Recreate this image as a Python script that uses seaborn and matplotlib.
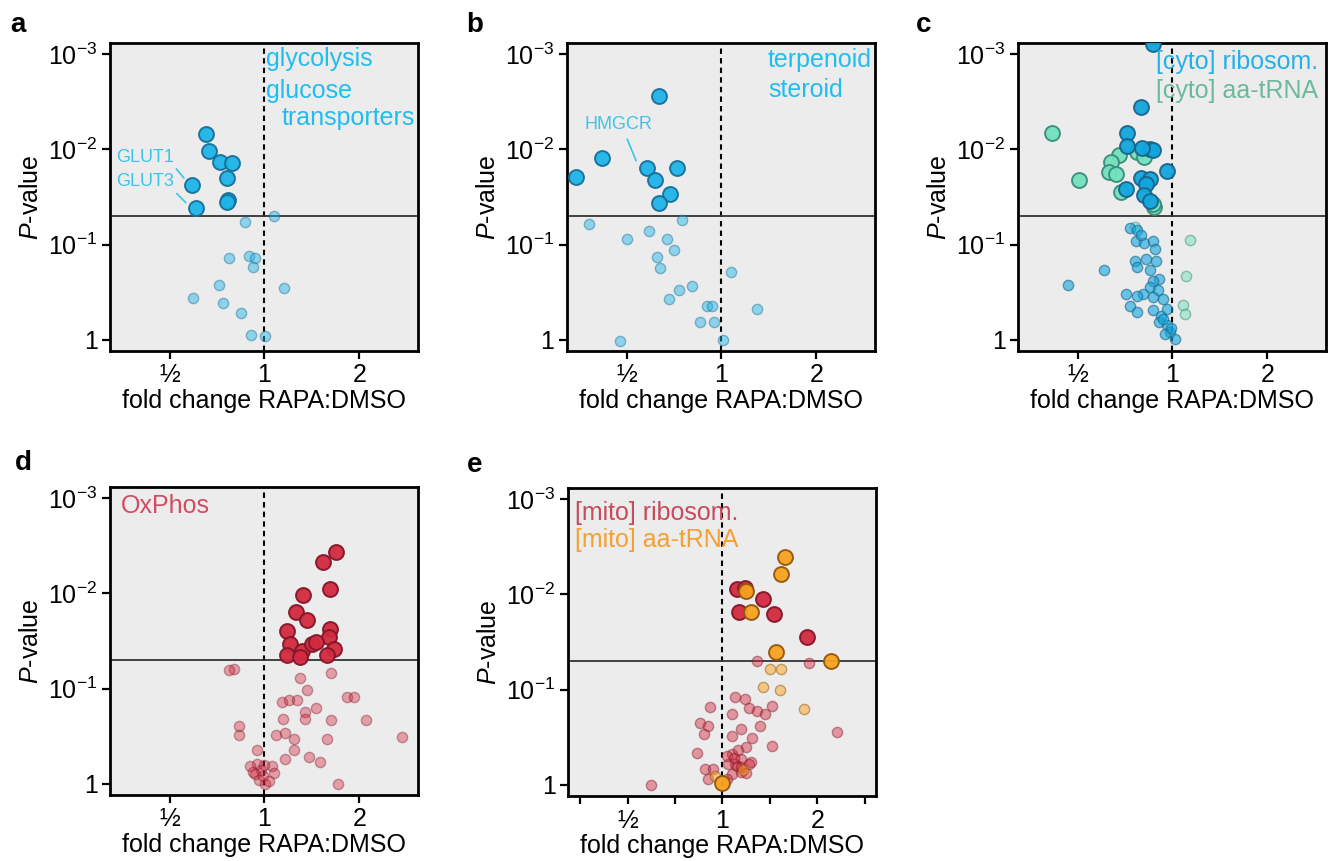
import matplotlib
matplotlib.use("Agg")
import matplotlib.pyplot as plt
import seaborn as sns

# ---------------- data (log2 fold change, -log10 P) ----------------
# panel a: glycolysis / glucose transporters
a_sig_lfc = [-0.62, -0.59, -0.47, -0.34, -0.40, -0.39, -0.40, -0.77, -0.72]
a_sig_nlp = [2.16, 1.98, 1.87, 1.86, 1.70, 1.47, 1.45, 1.63, 1.38]
a_ns_lfc = [0.10, -0.21, -0.37, -0.16, -0.10, -0.12, -0.48, 0.21, -0.75, -0.44, -0.25, -0.14, 0.01]
a_ns_nlp = [1.30, 1.24, 0.86, 0.88, 0.86, 0.76, 0.57, 0.54, 0.44, 0.38, 0.28, 0.05, 0.04]

# panel b: terpenoid / steroid
b_sig_lfc = [-0.66, -1.26, -1.53, -0.79, -0.70, -0.47, -0.54, -0.66]
b_sig_nlp = [2.56, 1.91, 1.71, 1.80, 1.68, 1.81, 1.53, 1.44]
b_ns_lfc = [-0.42, -1.40, -0.77, -1.00, -0.58, -0.50, -0.68, -0.65, 0.10, -0.31,
            -0.45, -0.55, -0.15, -0.10, 0.37, -0.23, -0.08, -1.07, 0.02]
b_ns_nlp = [1.26, 1.22, 1.14, 1.06, 1.06, 0.94, 0.87, 0.75, 0.71, 0.56,
            0.52, 0.43, 0.35, 0.35, 0.32, 0.18, 0.18, -0.01, 0.00]

# panel c: [cyto] ribosome (blue) and [cyto] aa-tRNA (green)
c_rib_sig_lfc = [-0.21, -0.33, -0.48, -0.48, -0.24, -0.21, -0.32, -0.06, -0.33, -0.24, -0.28, -0.30, -0.49, -0.24]
c_rib_sig_nlp = [3.11, 2.45, 2.17, 2.04, 2.01, 1.99, 2.02, 1.77, 1.70, 1.69, 1.64, 1.52, 1.58, 1.46]
c_trna_sig_lfc = [-1.27, -0.37, -0.30, -0.56, -0.65, -0.67, -0.60, -0.99, -0.54, -0.19, -0.21]
c_trna_sig_nlp = [2.17, 1.97, 1.92, 1.94, 1.87, 1.76, 1.74, 1.68, 1.55, 1.39, 1.43]
c_rib_ns_lfc = [-0.45, -0.37, -0.38, -0.30, -0.21, -0.40, -0.37, -0.28, -0.17, -0.24,
                -0.14, -0.21, -0.24, -0.15, -0.31, -0.49, -0.37, -0.21, -0.10, -0.45,
                -0.37, -0.21, -0.12, -0.06, -0.14, -0.06, -0.03, 0.03, -0.08, -0.72,
                -1.10, -0.33, -0.18, -0.10, -0.02]
c_rib_ns_nlp = [1.17, 1.15, 1.04, 1.02, 1.04, 0.83, 0.76, 0.85, 0.83, 0.73,
                0.64, 0.62, 0.55, 0.52, 0.48, 0.48, 0.46, 0.45, 0.43, 0.35,
                0.29, 0.31, 0.25, 0.32, 0.18, 0.15, 0.08, 0.01, 0.06, 0.73,
                0.57, 1.10, 0.95, 0.22, 0.12]
c_trna_ns_lfc = [0.18, 0.14, 0.11, 0.13, -0.40]
c_trna_ns_nlp = [1.05, 0.67, 0.36, 0.27, 1.18]

# panel d: OxPhos
d_sig_lfc = [0.75, 0.62, 0.69, 0.41, 0.33, 0.45, 0.24, 0.69, 0.68, 0.73, 0.27, 0.40, 0.50, 0.54, 0.24, 0.38, 0.66]
d_sig_nlp = [2.44, 2.33, 2.05, 1.98, 1.81, 1.72, 1.60, 1.63, 1.54, 1.42, 1.47, 1.39, 1.47, 1.49, 1.35, 1.33, 1.35]
d_ns_lfc = [-0.32, -0.37, 0.38, 0.45, 0.70, 0.87, 0.94, 0.19, 0.26, 0.34,
            0.54, 0.43, 0.43, 0.20, 0.70, 1.07, -0.27, -0.27, 0.12, 0.22,
            0.31, 0.66, 0.31, 0.22, 0.47, 0.59, -0.08, -0.08, -0.15, -0.04,
            0.08, 0.10, -0.06, 0.01, 0.78, 1.45, -0.10, -0.02, 0.05, -0.12, 0.00]
d_ns_nlp = [1.21, 1.19, 1.11, 0.98, 1.16, 0.91, 0.91, 0.86, 0.88, 0.88,
            0.79, 0.75, 0.68, 0.68, 0.67, 0.67, 0.61, 0.51, 0.51, 0.53,
            0.47, 0.47, 0.35, 0.26, 0.28, 0.23, 0.35, 0.21, 0.18, 0.14,
            0.18, 0.11, 0.04, 0.00, 0.00, 0.49, 0.10, 0.08, 0.03, 0.12, 0.20]

# panel e: [mito] ribosome (red) and [mito] aa-tRNA (orange)
e_rib_sig_lfc = [0.15, 0.24, 0.17, 0.43, 0.54, 0.89]
e_rib_sig_nlp = [2.06, 2.07, 1.82, 1.95, 1.79, 1.55]
e_trna_sig_lfc = [0.66, 0.62, 0.25, 0.30, 0.57, 1.15, 0.00]
e_trna_sig_nlp = [2.39, 2.22, 2.04, 1.82, 1.39, 1.30, 0.02]
e_rib_ns_lfc = [0.36, 0.91, 1.21, 0.52, 0.13, 0.24, 0.10, 0.28, 0.36, 0.45,
                0.52, -0.13, -0.24, -0.15, -0.20, 0.10, 0.20, 0.31, -0.27, 0.10,
                0.20, 0.13, -0.18, -0.10, 0.06, 0.10, 0.20, -0.15, -0.75, 0.16,
                0.25, 0.30, 0.40, 0.05, 0.15, 0.20, 0.28, 0.12, 0.25, 0.05]
e_rib_ns_nlp = [1.30, 1.28, 0.55, 0.41, 0.92, 0.90, 0.74, 0.81, 0.77, 0.74,
                0.83, 0.82, 0.65, 0.62, 0.53, 0.51, 0.58, 0.49, 0.33, 0.32,
                0.27, 0.22, 0.16, 0.16, 0.22, 0.11, 0.13, 0.06, 0.00, 0.36,
                0.40, 0.24, 0.62, 0.30, 0.20, 0.18, 0.22, 0.28, 0.12, 0.06]
e_trna_ns_lfc = [0.50, 0.62, 0.43, 0.61, 0.86, -0.08, 0.22]
e_trna_ns_nlp = [1.22, 1.22, 1.03, 1.00, 0.79, 0.09, 0.15]

x_ticks = [-1, 0, 1]
x_ticklabels = ["\u00bd", "1", "2"]
e_x_ticks = [-1.5, -1, -0.5, 0, 0.5, 1, 1.5]
e_x_ticklabels = ["", "\u00bd", "", "1", "", "2", ""]
y_ticks = [0, 1, 2, 3]
y_ticklabels = ["1", r"$10^{-1}$", r"$10^{-2}$", r"$10^{-3}$"]
p_threshold = 1.301  # -log10(0.05)

# ---------------- style ----------------
sns.set_theme(style="white")
plt.rcParams["font.family"] = ["Liberation Sans", "DejaVu Sans"]
plt.rcParams["mathtext.fontset"] = "custom"
plt.rcParams["mathtext.rm"] = "Liberation Sans"
plt.rcParams["mathtext.it"] = "Liberation Sans:italic"
plt.rcParams["mathtext.bf"] = "Liberation Sans:bold"
for k in ["text.color", "axes.labelcolor", "xtick.color", "ytick.color"]:
    plt.rcParams[k] = "black"

FS = 18
CYAN, CYAN_E = "#1db4e8", "#176f98"
BLUE, BLUE_E = "#12a6de", "#17658c"
GREEN, GREEN_E = "#72e2bc", "#3a8c7c"
RED, RED_E = "#d22a3e", "#82162a"
ORANGE, ORANGE_E = "#f9a21e", "#94560e"

fig = plt.figure(figsize=(13.38, 8.61), dpi=100)
W, H = 1338, 861


def make_ax(left_px, top_px, size_px=308):
    return fig.add_axes([left_px / W, 1 - (top_px + size_px) / H, size_px / W, size_px / H])


def style_ax(ax, xt=x_ticks, xtl=x_ticklabels):
    ax.set_facecolor("#ececec")
    ax.set_xlim(-1.63, 1.62)
    ax.set_ylim(-0.12, 3.12)
    ax.set_xticks(xt)
    ax.set_xticklabels(xtl, fontsize=FS)
    ax.set_yticks(y_ticks)
    ax.set_yticklabels(y_ticklabels, fontsize=FS)
    ax.tick_params(axis="both", direction="out", length=6, width=1.6, color="black",
                   bottom=True, left=True, pad=3)
    for sp in ax.spines.values():
        sp.set_visible(True)
        sp.set_color("black")
        sp.set_linewidth(2.0)
    ax.set_xlabel("fold change RAPA:DMSO", fontsize=FS, labelpad=1)
    ax.set_ylabel(r"$P$-value", fontsize=FS, labelpad=4)
    ax.grid(False)
    ax.axvline(0, color="black", lw=1.5, ls=(0, (2.6, 2.0)), zorder=2)
    ax.axhline(p_threshold, color="#333333", lw=1.3, zorder=2)


def pts(ax, x, y, face, edge, big, alpha=0.45):
    if big:
        sns.scatterplot(x=x, y=y, ax=ax, s=115, color=face, edgecolor=edge,
                        linewidth=1.4, alpha=0.95, legend=False, zorder=4)
    else:
        sns.scatterplot(x=x, y=y, ax=ax, s=55, color=face, edgecolor=edge,
                        linewidth=1.0, alpha=alpha, legend=False, zorder=3)


# ---- panel a ----
axa = make_ax(110, 43)
style_ax(axa)
pts(axa, a_ns_lfc, a_ns_nlp, CYAN, CYAN_E, False)
pts(axa, a_sig_lfc, a_sig_nlp, CYAN, CYAN_E, True)
for t, y, x in [("glycolysis", 2.95, 0.02), ("glucose", 2.62, 0.02), ("transporters", 2.33, 0.18)]:
    axa.text(x, y, t, color="#22bdf0", fontsize=FS, va="center", ha="left", zorder=5)
axa.annotate("GLUT1", xy=(-0.85, 1.70), xytext=(-1.57, 1.92), fontsize=13, color="#3cc4ea",
             va="center", ha="left",
             arrowprops=dict(arrowstyle="-", color="#3cc4ea", lw=1.2, shrinkA=0, shrinkB=0,
                             relpos=(1.0, 0.0)))
axa.annotate("GLUT3", xy=(-0.83, 1.44), xytext=(-1.57, 1.66), fontsize=13, color="#3cc4ea",
             va="center", ha="left",
             arrowprops=dict(arrowstyle="-", color="#3cc4ea", lw=1.2, shrinkA=0, shrinkB=0,
                             relpos=(1.0, 0.0)))

# ---- panel b ----
axb = make_ax(567, 43)
style_ax(axb)
pts(axb, b_ns_lfc, b_ns_nlp, CYAN, CYAN_E, False)
pts(axb, b_sig_lfc, b_sig_nlp, CYAN, CYAN_E, True)
for t, y in [("terpenoid", 2.94), ("steroid", 2.63)]:
    axb.text(0.49, y, t, color="#22bdf0", fontsize=FS, va="center", ha="left", zorder=5)
axb.annotate("HMGCR", xy=(-0.90, 1.88), xytext=(-1.45, 2.26), fontsize=13, color="#3cc4ea",
             va="center", ha="left",
             arrowprops=dict(arrowstyle="-", color="#3cc4ea", lw=1.2, shrinkA=2, shrinkB=0,
                             relpos=(0.6, 0.0)))

# ---- panel c ----
axc = make_ax(1018, 43)
style_ax(axc)
pts(axc, c_trna_ns_lfc, c_trna_ns_nlp, GREEN, GREEN_E, False, 0.5)
pts(axc, c_rib_ns_lfc, c_rib_ns_nlp, BLUE, BLUE_E, False, 0.6)
pts(axc, c_trna_sig_lfc, c_trna_sig_nlp, GREEN, GREEN_E, True)
pts(axc, c_rib_sig_lfc, c_rib_sig_nlp, BLUE, BLUE_E, True)
axc.text(-0.17, 2.92, "[cyto] ribosom.", color="#26b0ea", fontsize=FS, va="center", ha="left", zorder=5)
axc.text(-0.17, 2.62, "[cyto] aa-tRNA", color="#6db99c", fontsize=FS, va="center", ha="left", zorder=5)

# ---- panel d ----
axd = make_ax(110, 487)
style_ax(axd)
pts(axd, d_ns_lfc, d_ns_nlp, RED, RED_E, False, 0.4)
pts(axd, d_sig_lfc, d_sig_nlp, RED, RED_E, True)
axd.text(-1.52, 2.92, "OxPhos", color="#d24c62", fontsize=FS, va="center", ha="left", zorder=5)

# ---- panel e ----
axe = make_ax(568, 488)
style_ax(axe, e_x_ticks, e_x_ticklabels)
pts(axe, e_rib_ns_lfc, e_rib_ns_nlp, RED, RED_E, False, 0.45)
pts(axe, e_trna_ns_lfc, e_trna_ns_nlp, ORANGE, ORANGE_E, False, 0.5)
pts(axe, e_rib_sig_lfc, e_rib_sig_nlp, RED, RED_E, True)
pts(axe, e_trna_sig_lfc, e_trna_sig_nlp, ORANGE, ORANGE_E, True)
axe.text(-1.56, 2.86, "[mito] ribosom.", color="#c84a5c", fontsize=FS, va="center", ha="left", zorder=5)
axe.text(-1.56, 2.57, "[mito] aa-tRNA", color="#f5a030", fontsize=FS, va="center", ha="left", zorder=5)

# ---- panel letters ----
for letter, x, y in [("a", 10, 25), ("b", 466, 25), ("c", 916, 25), ("d", 15, 463), ("e", 467, 465)]:
    fig.text(x / W, 1 - y / H, letter, fontsize=20, fontweight="bold", va="center", ha="left")

fig.savefig("out.png", dpi=100, facecolor="white")
